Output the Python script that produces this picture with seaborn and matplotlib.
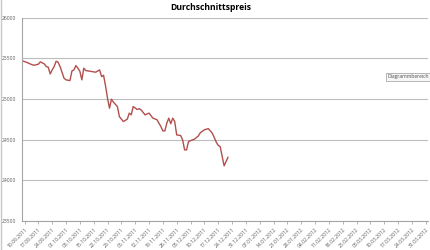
import matplotlib
matplotlib.use("Agg")
import matplotlib.pyplot as plt
import seaborn as sns
import pandas as pd
from matplotlib.lines import Line2D

title = "Durchschnittspreis"
dates = ["2011-09-09", "2011-09-11", "2011-09-14", "2011-09-15", "2011-09-17", "2011-09-18",
         "2011-09-20", "2011-09-21", "2011-09-22", "2011-09-23", "2011-09-24", "2011-09-25",
         "2011-09-26", "2011-09-27", "2011-09-28", "2011-09-30", "2011-10-01", "2011-10-03",
         "2011-10-04", "2011-10-05", "2011-10-06", "2011-10-07", "2011-10-08", "2011-10-09",
         "2011-10-10", "2011-10-11", "2011-10-14", "2011-10-16", "2011-10-18", "2011-10-19",
         "2011-10-20", "2011-10-21", "2011-10-22", "2011-10-23", "2011-10-24", "2011-10-25",
         "2011-10-27", "2011-10-28", "2011-10-30", "2011-11-01", "2011-11-02", "2011-11-03",
         "2011-11-04", "2011-11-06", "2011-11-07", "2011-11-08", "2011-11-10", "2011-11-12",
         "2011-11-14", "2011-11-16", "2011-11-18", "2011-11-19", "2011-11-20", "2011-11-21",
         "2011-11-22", "2011-11-23", "2011-11-24", "2011-11-25", "2011-11-26", "2011-11-28",
         "2011-11-29", "2011-11-30", "2011-12-01", "2011-12-02", "2011-12-04", "2011-12-05",
         "2011-12-07", "2011-12-08", "2011-12-10", "2011-12-12", "2011-12-14", "2011-12-16",
         "2011-12-17", "2011-12-18", "2011-12-20", "2011-12-22"]
prices = [25467, 25450, 25418, 25414, 25426, 25455,
          25430, 25397, 25390, 25307, 25356, 25397,
          25463, 25450, 25397, 25254, 25234, 25225,
          25344, 25356, 25409, 25377, 25340, 25234,
          25377, 25348, 25336, 25328, 25356, 25274,
          25290, 25160, 25008, 24886, 24996, 24960,
          24906, 24783, 24722, 24751, 24825, 24804,
          24906, 24870, 24880, 24865, 24804, 24825,
          24763, 24745, 24660, 24607, 24607, 24702,
          24763, 24695, 24763, 24722, 24558, 24550,
          24497, 24374, 24374, 24476, 24497, 24505,
          24546, 24586, 24620, 24635, 24580, 24470,
          24430, 24414, 24178, 24285]
y_ticks = [23500, 24000, 24500, 25000, 25500, 26000]
x_tick_start = "2011-09-10"
x_tick_end = "2012-03-31"

sns.set_theme(style="white")
plt.rcParams['font.family'] = ['Open Sans', 'DejaVu Sans']

W, H = 431, 250
fig = plt.figure(figsize=(W / 100, H / 100), dpi=100)
fig.patch.set_facecolor("white")
ax = fig.add_axes([22 / W, (H - 221) / H, (428 - 22) / W, (221 - 17.5) / H])

df = pd.DataFrame({"Datum": pd.to_datetime(dates), "Preis": prices})
sns.lineplot(data=df, x="Datum", y="Preis", ax=ax, color="#b24f4c", linewidth=1.0)

tick_dates = pd.date_range(x_tick_start, x_tick_end, freq="7D")
ax.set_xticks(tick_dates)
ax.set_xticklabels([d.strftime("%d.%m.%Y") for d in tick_dates], rotation=45, ha="right",
                   rotation_mode="anchor", fontsize=3.6, color="#595959")
ax.set_xlim(pd.Timestamp(x_tick_start) - pd.Timedelta(days=1.27),
            pd.Timestamp(x_tick_end) + pd.Timedelta(days=1.16))
ax.set_ylim(y_ticks[0], y_ticks[-1])
ax.set_yticks(y_ticks)
ax.set_yticklabels([str(v) for v in y_ticks], fontsize=3.6, color="#595959")
ax.set_xlabel("")
ax.set_ylabel("")
ax.yaxis.grid(True, color="#bdbdbd", linewidth=0.8)
ax.xaxis.grid(False)
for s in ["top", "right"]:
    ax.spines[s].set_visible(False)
for s in ["left", "bottom"]:
    ax.spines[s].set_color("#a6a6a6")
    ax.spines[s].set_linewidth(0.8)
ax.tick_params(axis="x", length=2.5, width=0.6, color="#a6a6a6", pad=1.5, bottom=True)
ax.tick_params(axis="y", length=0, pad=4)

fig.text(211 / W, 1 - 7 / H, title, ha="center", va="center", fontsize=6.2,
         fontweight="bold", color="#000000")
fig.text(388 / W, 1 - 76.5 / H, "Diagrammbereich", ha="left", va="center", fontsize=3.6,
         color="#4d4d4d",
         bbox=dict(boxstyle="square,pad=0.3", facecolor="#f7f7f7", edgecolor="#9a9a9a",
                   linewidth=0.5))
fig.add_artist(Line2D([0.6 / W, 0.6 / W], [0, 1], transform=fig.transFigure,
                      color="#c8c8c8", linewidth=1.0))

fig.savefig("out.png", dpi=100, facecolor="white")
